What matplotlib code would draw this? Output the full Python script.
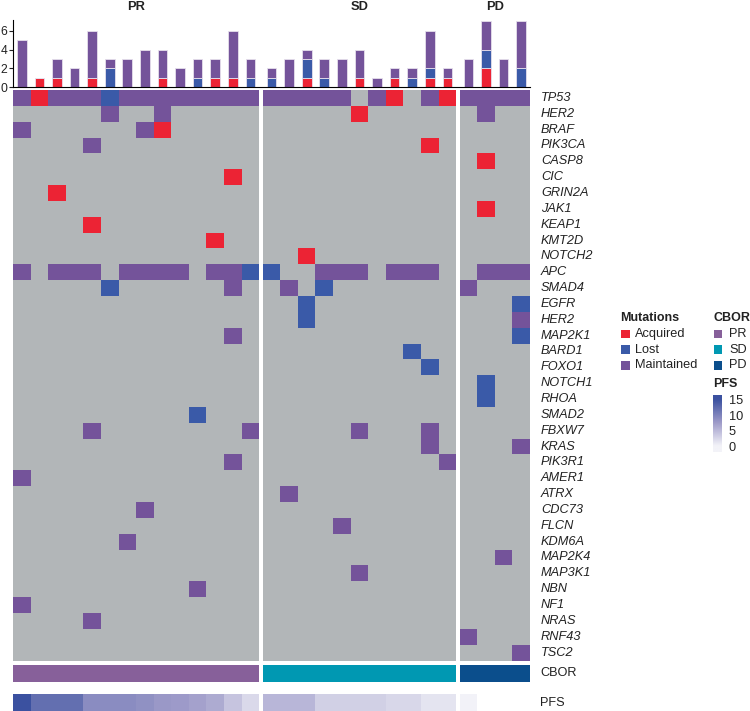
import numpy as np
import matplotlib
matplotlib.use('Agg')
import matplotlib.pyplot as plt
from matplotlib.colors import ListedColormap, LinearSegmentedColormap, BoundaryNorm, Normalize
from matplotlib.patches import Rectangle

plt.rcParams['font.family'] = ['Liberation Sans', 'DejaVu Sans']

# ---------------- data ----------------
genes = ['TP53', 'HER2', 'BRAF', 'PIK3CA', 'CASP8', 'CIC', 'GRIN2A', 'JAK1', 'KEAP1',
         'KMT2D', 'NOTCH2', 'APC', 'SMAD4', 'EGFR', 'HER2', 'MAP2K1', 'BARD1', 'FOXO1',
         'NOTCH1', 'RHOA', 'SMAD2', 'FBXW7', 'KRAS', 'PIK3R1', 'AMER1', 'ATRX', 'CDC73',
         'FLCN', 'KDM6A', 'MAP2K4', 'MAP3K1', 'NBN', 'NF1', 'NRAS', 'RNF43', 'TSC2']

groups = ['PR', 'SD', 'PD']
# '.' = none, 'A' = Acquired, 'L' = Lost, 'M' = Maintained
pr_status = [
    "MAMMMLMMMMMMMM", ".....M..M.....", "M......MA.....", "....M.........",
    "..............", "............A.", "..A...........", "..............",
    "....A.........", "...........A..", "..............", "M.MMM.MMMM.MML",
    ".....L......M.", "..............", "..............", "............M.",
    "..............", "..............", "..............", "..............",
    "..........L...", "....M........M", "..............", "............M.",
    "M.............", "..............", ".......M......", "..............",
    "......M.......", "..............", "..............", "..........M...",
    "M.............", "....M.........", "..............", "..............",
]
sd_status = [
    "MMMMM.MA.MA", ".....A.....", "...........", ".........A.",
    "...........", "...........", "...........", "...........",
    "...........", "...........", "..A........", "L..MMM.MMM.",
    ".M.L.......", "..L........", "..L........", "...........",
    "........L..", ".........L.", "...........", "...........",
    "...........", ".....M...M.", ".........M.", "..........M",
    "...........", ".M.........", "...........", "....M......",
    "...........", "...........", ".....M.....", "...........",
    "...........", "...........", "...........", "...........",
]
pd_status = [
    "MMMM", ".M..", "....", "....", ".A..", "....", "....", ".A..", "....",
    "....", "....", ".MMM", "M...", "...L", "...M", "...L", "....", "....",
    ".L..", ".L..", "....", "....", "...M", "....", "....", "....", "....",
    "....", "....", "..M.", "....", "....", "....", "....", "M...", "...M",
]
pr_pfs = [15, 12, 12, 12, 9, 9, 9, 8.5, 7.8, 7.6, 7.0, 6.2, 4.0, 2.2]
sd_pfs = [5.2, 5.2, 5.2, 3.0, 3.0, 3.0, 3.0, 2.4, 2.4, 1.3, 1.3]
pd_pfs = [0.1, np.nan, np.nan, np.nan]

status_data = [pr_status, sd_status, pd_status]
pfs_data = [pr_pfs, sd_pfs, pd_pfs]

# ---------------- styles ----------------
c_grey = '#B2B6B8'
c_acq = '#EC2334'
c_lost = '#3A5AA8'
c_main = '#74539A'
cbor_colors = {'PR': '#87609A', 'SD': '#0098B2', 'PD': '#0B4E8C'}
code = {'.': 0, 'A': 1, 'L': 2, 'M': 3}
mut_cmap = ListedColormap([c_grey, c_acq, c_lost, c_main])
mut_norm = BoundaryNorm([-0.5, 0.5, 1.5, 2.5, 3.5], 4)
pfs_cmap = LinearSegmentedColormap.from_list('pfs', ['#F3F3F8', '#9E9BC9', '#3B51A0'])
pfs_norm = Normalize(0, 15)
txt = '#222222'
fs = 9.2

W, H = 750, 711
fig = plt.figure(figsize=(W / 100, H / 100), dpi=100)


def px_axes(l, t, r, b):
    return fig.add_axes([l / W, 1 - b / H, (r - l) / W, (b - t) / H])


gap = 0.2
sizes = [len(s[0]) for s in status_data]
offsets = []
o = 0
for s in sizes:
    offsets.append(o)
    o += s + gap
xmax = o - gap

L, R = 13, 530

# ---------------- top bar plot ----------------
axb = px_axes(L, 19.5, R, 87.3)
for gi, st in enumerate(status_data):
    mat = np.array([[code[ch] for ch in row] for row in st])
    xs = offsets[gi] + np.arange(sizes[gi]) + 0.5
    na = (mat == 1).sum(axis=0)
    nl = (mat == 2).sum(axis=0)
    nm = (mat == 3).sum(axis=0)
    kw = dict(width=0.55, edgecolor='#E6E0EC', linewidth=0.6)
    axb.bar(xs, na, color=c_acq, **kw)
    axb.bar(xs, nl, bottom=na, color=c_lost, **kw)
    axb.bar(xs, nm, bottom=na + nl, color=c_main, **kw)
axb.set_xlim(0, xmax)
axb.set_ylim(0, 7.2)
axb.set_yticks([0, 2, 4, 6])
axb.set_xticks([])
for sp in ['top', 'right']:
    axb.spines[sp].set_visible(False)
axb.spines['left'].set_linewidth(0.8)
axb.spines['bottom'].set_linewidth(0.8)
axb.tick_params(axis='y', labelsize=8.7, length=3, width=0.8, pad=1, colors=txt)

# ---------------- heatmap ----------------
axh = px_axes(L, 90, R, 660.5)
for gi, st in enumerate(status_data):
    mat = np.array([[code[ch] for ch in row] for row in st])
    xe = offsets[gi] + np.arange(sizes[gi] + 1)
    ye = np.arange(len(genes) + 1)
    axh.pcolormesh(xe, ye, mat, cmap=mut_cmap, norm=mut_norm, edgecolors='none')
axh.set_xlim(0, xmax)
axh.set_ylim(len(genes), 0)
axh.axis('off')
for i, g in enumerate(genes):
    axh.text(1 + 11 / (R - L), i + 0.5, g, transform=axh.get_yaxis_transform(),
             ha='left', va='center', fontsize=fs, style='italic', color=txt)

# ---------------- CBOR annotation ----------------
axc = px_axes(L, 665, R, 681.5)
for gi, g in enumerate(groups):
    axc.bar(offsets[gi] + sizes[gi] / 2, 1, width=sizes[gi], bottom=0,
            color=cbor_colors[g], edgecolor='none')
axc.set_xlim(0, xmax)
axc.set_ylim(0, 1)
axc.axis('off')
axc.text(1 + 10 / (R - L), 0.5, 'CBOR', transform=axc.transAxes, ha='left', va='center',
         fontsize=fs, color=txt)

# ---------------- PFS annotation ----------------
axp = px_axes(L, 694, R, 711)
for gi, vals in enumerate(pfs_data):
    xe = offsets[gi] + np.arange(sizes[gi] + 1)
    arr = np.ma.masked_invalid(np.array(vals, dtype=float)[None, :])
    axp.pcolormesh(xe, [0, 1], arr, cmap=pfs_cmap, norm=pfs_norm, edgecolors='none')
axp.set_xlim(0, xmax)
axp.set_ylim(0, 1)
axp.axis('off')
axp.text(1 + 10 / (R - L), 0.45, 'PFS', transform=axp.transAxes, ha='left', va='center',
         fontsize=fs, color=txt)

# ---------------- overlay: titles & legends ----------------
axl = fig.add_axes([0, 0, 1, 1], zorder=5)
axl.set_xlim(0, W)
axl.set_ylim(H, 0)
axl.axis('off')
axl.patch.set_alpha(0)

# group titles, centred over each group of columns
px_per_unit = (R - L) / xmax
for gi, g in enumerate(groups):
    cx = L + (offsets[gi] + sizes[gi] / 2) * px_per_unit
    axl.text(cx, 9.5, g, ha='center', va='baseline', fontsize=9.3, fontweight='bold', color=txt)

axl.text(620, 318, 'Mutations', ha='left', va='center', fontsize=9, fontweight='bold', color=txt)
for k, (lab, col) in enumerate([('Acquired', c_acq), ('Lost', c_lost), ('Maintained', c_main)]):
    y = 334 + k * 15.7
    axl.add_patch(Rectangle((621, y - 4.3), 9, 8.6, color=col, lw=0))
    axl.text(635, y, lab, ha='left', va='center', fontsize=fs, color=txt)

axl.text(713, 318, 'CBOR', ha='left', va='center', fontsize=9, fontweight='bold', color=txt)
for k, g in enumerate(groups):
    y = 334 + k * 15.7
    axl.add_patch(Rectangle((714, y - 4.3), 8, 8.6, color=cbor_colors[g], lw=0))
    axl.text(729, y, g, ha='left', va='center', fontsize=fs, color=txt)

axl.text(713, 384, 'PFS', ha='left', va='center', fontsize=9, fontweight='bold', color=txt)
cax = px_axes(713, 394.5, 722, 452)
lo, hi = -1.9, 16.6
grad = np.linspace(lo, hi, 256)[:, None]
cax.imshow(grad, extent=[0, 1, lo, hi], origin='lower', aspect='auto', cmap=pfs_cmap, norm=pfs_norm)
cax.set_ylim(lo, hi)
cax.set_xticks([])
cax.yaxis.tick_right()
cax.set_yticks([0, 5, 10, 15])
cax.tick_params(axis='y', length=0, pad=5, labelsize=fs, colors=txt)
for sp in cax.spines.values():
    sp.set_visible(False)

fig.savefig('out.png', dpi=100)
